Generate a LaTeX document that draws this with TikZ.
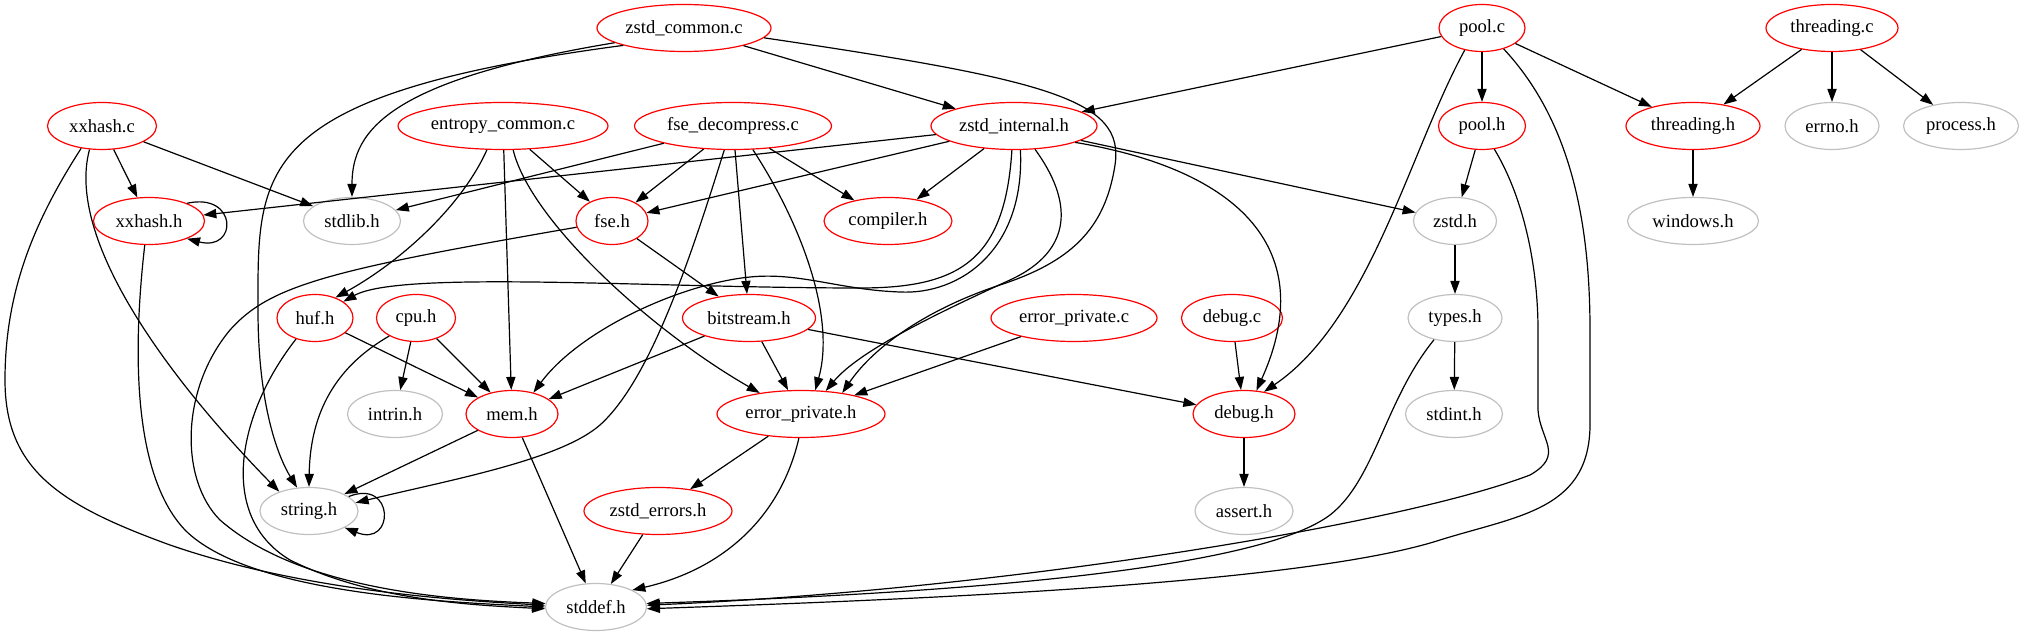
\documentclass[tikz,border=0pt]{standalone}
\usepackage{fontspec}
\setmainfont{Liberation Serif}
\usetikzlibrary{arrows.meta,shapes.geometric}
\definecolor{sysgray}{RGB}{192,192,192}

\begin{document}
\begin{tikzpicture}[>={Triangle[length=6.5pt,width=4.6pt]},x=0.5pt,y=-0.5pt,line width=0.6pt,
  every node/.style={ellipse,draw=red,inner sep=0pt,minimum height=23.5pt,font=\fontsize{9.3}{11}\selectfont},
  sys/.style={draw=sysgray}]
\useasboundingbox (0,0) rectangle (2024,635);
% rank 0
\node[minimum width=87pt] (zcommon) at (684,28) {zstd\_common.c};
\node[minimum width=43pt] (poolc) at (1482,28) {pool.c};
\node[minimum width=66pt] (threadc) at (1832,28) {threading.c};
% rank 1
\node[minimum width=54.5pt] (xxhc) at (102,126) {xxhash.c};
\node[minimum width=105pt] (entropyc) at (503,126) {entropy\_common.c};
\node[minimum width=98.5pt] (fsedec) at (733,126) {fse\_decompress.c};
\node[minimum width=83pt] (zinternal) at (1014,126) {zstd\_internal.h};
\node[minimum width=43.5pt] (poolh) at (1482,126) {pool.h};
\node[minimum width=67pt] (threadh) at (1693,126) {threading.h};
\node[sys,minimum width=47pt] (errnoh) at (1832,126) {errno.h};
\node[sys,minimum width=57.5pt] (processh) at (1961,126) {process.h};
% rank 2
\node[minimum width=55.5pt] (xxhh) at (149,221) {xxhash.h};
\node[sys,minimum width=48.5pt] (stdlibh) at (352,221) {stdlib.h};
\node[minimum width=36pt] (fseh) at (612,221) {fse.h};
\node[minimum width=64pt] (compilerh) at (888,221) {compiler.h};
\node[sys,minimum width=41.5pt] (zstdh) at (1455,221) {zstd.h};
\node[sys,minimum width=65.5pt] (windowsh) at (1693,221) {windows.h};
% rank 3
\node[minimum width=38pt] (hufh) at (315,318) {huf.h};
\node[minimum width=39.5pt] (cpuh) at (416,318) {cpu.h};
\node[minimum width=66.5pt] (bitstreamh) at (749,318) {bitstream.h};
\node[minimum width=83pt] (errprivc) at (1074,318) {error\_private.c};
\node[minimum width=50.5pt] (debugc) at (1232,318) {debug.c};
\node[sys,minimum width=47pt] (typesh) at (1455,318) {types.h};
% rank 4
\node[sys,minimum width=47.5pt] (intrinh) at (395,414) {intrin.h};
\node[minimum width=46pt] (memh) at (512,414) {mem.h};
\node[minimum width=84pt] (errprivh) at (801,414) {error\_private.h};
\node[minimum width=51pt] (debugh) at (1244,414) {debug.h};
\node[sys,minimum width=48.5pt] (stdinth) at (1454,414) {stdint.h};
% rank 5
\node[sys,minimum width=49pt] (stringh) at (309,511) {string.h};
\node[minimum width=74pt] (zerrorsh) at (658,511) {zstd\_errors.h};
\node[sys,minimum width=49pt] (asserth) at (1244,511) {assert.h};
% rank 6
\node[sys,minimum width=50.5pt] (stddefh) at (596,607) {stddef.h};

\foreach \a/\b in {zcommon/zinternal,poolc/zinternal,poolc/poolh,poolc/threadh,threadc/threadh,
  threadc/errnoh,threadc/processh,threadh/windowsh,poolh/zstdh,zinternal/zstdh,zstdh/typesh,
  typesh/stdinth,xxhc/xxhh,xxhc/stdlibh,fsedec/stdlibh,entropyc/fseh,fsedec/fseh,zinternal/fseh,
  zinternal/xxhh,fsedec/compilerh,zinternal/compilerh,fsedec/bitstreamh,fseh/bitstreamh,
  entropyc/memh,hufh/memh,cpuh/memh,cpuh/intrinh,bitstreamh/memh,bitstreamh/errprivh,
  bitstreamh/debugh,errprivc/errprivh,debugc/debugh,debugh/asserth,memh/stringh,memh/stddefh,
  errprivh/zerrorsh,zerrorsh/stddefh}
  \draw[->] (\a)--(\b);

% self loops
\draw[->] (xxhh.25) .. controls (238,192) and (238,252) .. (xxhh.-25);
\draw[->] (stringh.20) .. controls (395,478) and (395,548) .. (stringh.-25);

% curved edges
\draw[->] (zcommon.192) .. controls (390,80) and (352,130) .. (stdlibh);
\draw[->] (zcommon.196) .. controls (250,95) and (258,170) .. (258,310) .. controls (258,410) and (280,460) .. (stringh.117);
\draw[->] (zcommon.353) .. controls (1050,80) and (1125,100) .. (1115,165) .. controls (1105,230) and (1070,262) .. (1000,285) .. controls (930,308) and (875,345) .. (errprivh.27);
\draw[->] (zinternal.312) .. controls (1072,200) and (1075,250) .. (1010,280) .. controls (940,312) and (860,350) .. (errprivh.43);
\draw[->] (zinternal.345) .. controls (1240,170) and (1320,250) .. (debugh.62);
\draw[->] (zinternal.265) .. controls (1005,260) and (960,288) .. (860,288) .. controls (650,288) and (400,270) .. (hufh.30);
\draw[->] (zinternal.285) .. controls (1025,250) and (960,295) .. (900,292) .. controls (840,290) and (800,272) .. (750,277) .. controls (680,284) and (580,330) .. (memh.45);
\draw[->] (poolc.232) .. controls (1410,150) and (1370,320) .. (debugh.48);
\draw[->] (poolc.316) .. controls (1570,120) and (1590,220) .. (1590,330) -- (1590,420) .. controls (1592,510) and (1520,515) .. (1440,540) .. controls (1300,585) and (900,600) .. (stddefh.-2);
\draw[->] (poolh.298) .. controls (1525,200) and (1538,270) .. (1538,330) -- (1538,410) .. controls (1540,440) and (1565,455) .. (1530,475) .. controls (1400,525) and (1000,590) .. (stddefh.2);
\draw[->] (typesh.226) .. controls (1385,400) and (1375,480) .. (1330,515) .. controls (1250,575) and (900,595) .. (stddefh.4);
\draw[->] (xxhc.227) .. controls (35,220) and (5,290) .. (5,380) .. controls (5,470) and (60,505) .. (170,545) .. controls (300,590) and (450,600) .. (stddefh.178);
\draw[->] (xxhh.260) .. controls (135,330) and (128,470) .. (185,530) .. controls (250,595) and (450,602) .. (stddefh.180);
\draw[->] (hufh.228) .. controls (240,410) and (215,515) .. (290,560) .. controls (370,600) and (470,605) .. (stddefh.182);
\draw[->] (fseh.190) .. controls (330,270) and (270,285) .. (230,330) .. controls (180,390) and (180,480) .. (220,520) .. controls (300,590) and (450,600) .. (stddefh.176);
\draw[->] (xxhc.242) .. controls (65,240) and (170,380) .. (stringh.147);
\draw[->] (cpuh.214) .. controls (330,370) and (310,420) .. (stringh.90);
\draw[->] (fsedec.250) .. controls (690,260) and (650,380) .. (600,425) .. controls (560,460) and (450,480) .. (stringh.10);
\draw[->] (fsedec.310) .. controls (805,230) and (835,320) .. (errprivh.59);
\draw[->] (entropyc.293) .. controls (530,220) and (650,330) .. (errprivh.153);
\draw[->] (entropyc.236) .. controls (460,210) and (395,265) .. (hufh.45);
\draw[->] (errprivh.265) .. controls (780,520) and (720,570) .. (stddefh.25);
\end{tikzpicture}
\end{document}
